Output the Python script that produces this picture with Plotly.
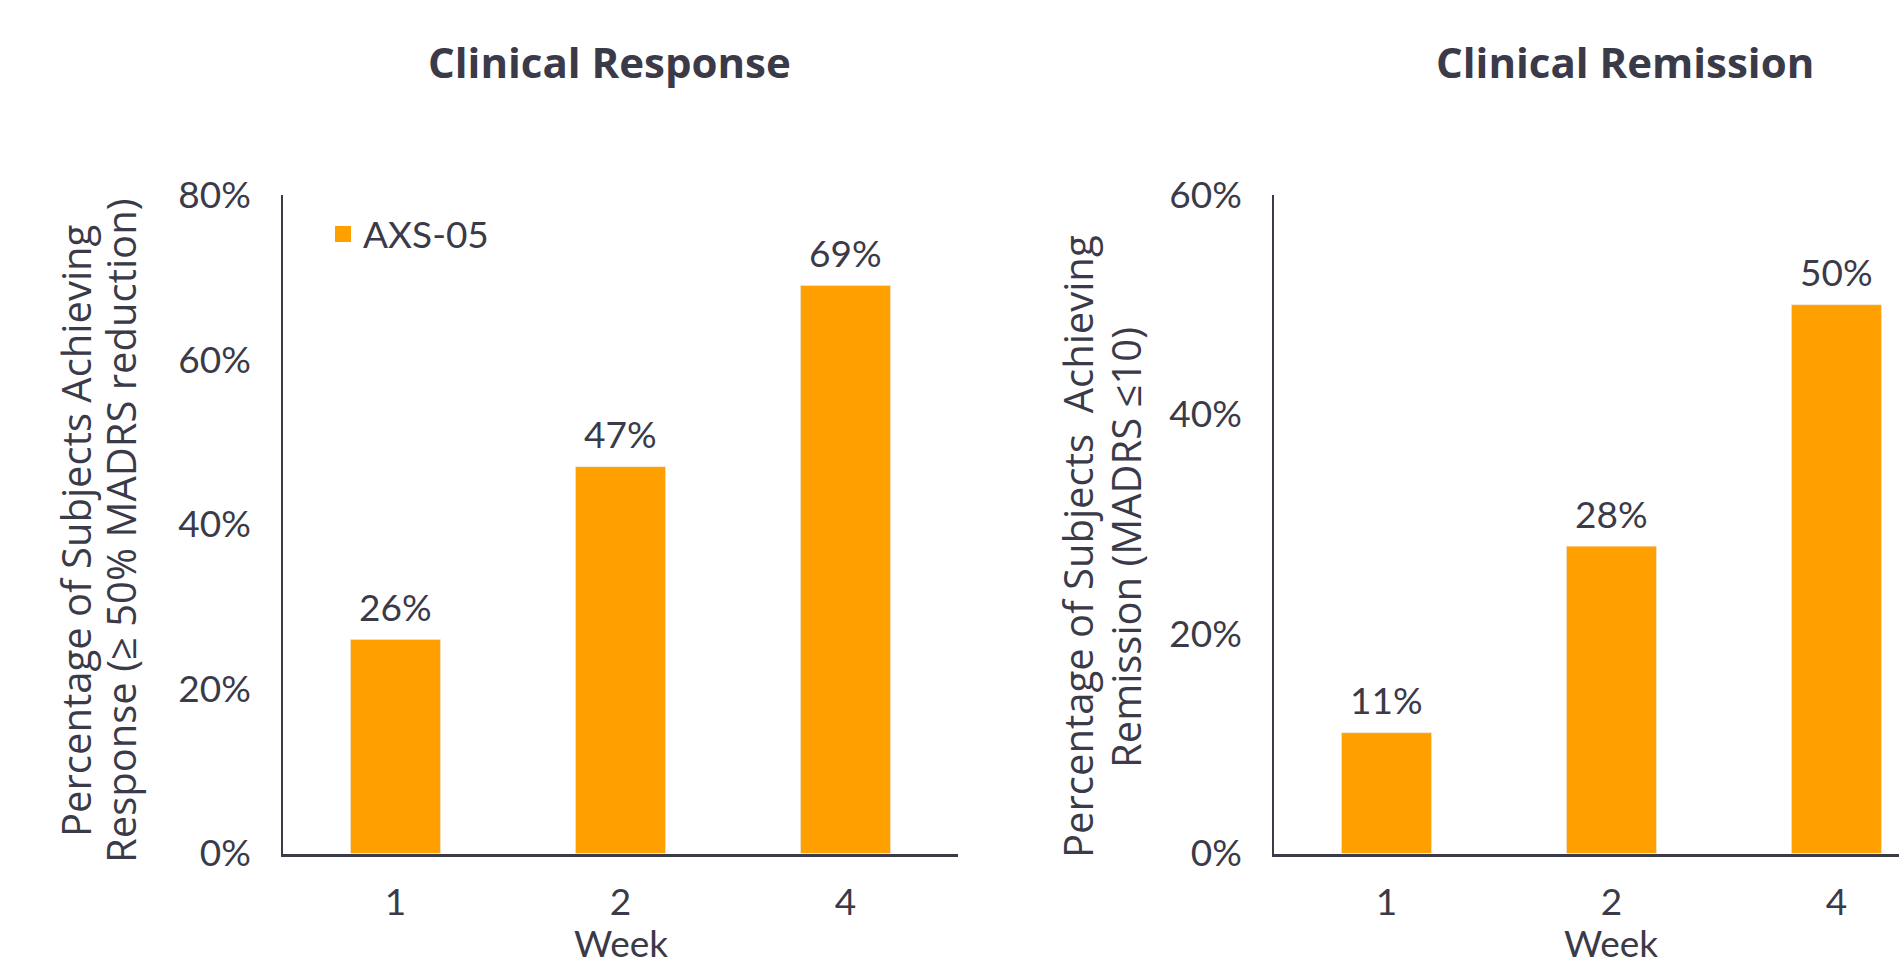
import plotly.graph_objects as go

weeks = ["1", "2", "4"]
response_pct = [26, 47, 69]
remission_pct = [11, 28, 50]
response_ticks = [0, 20, 40, 60, 80]
remission_ticks = [0, 20, 40, 60]
series_name = "AXS-05"

ORANGE = "#FF9F00"
TXT = "#3A3A48"
TICKFONT = dict(family="Lato, Open Sans, sans-serif", size=37, color=TXT)
TITLEFONT = dict(family="Open Sans, Lato, sans-serif", size=42, color=TXT)
AXTFONT = dict(family="Open Sans, DejaVu Sans, sans-serif", size=40, color=TXT)

W, H = 1899, 960
def px(x):
    return x / W
def py(y):
    return (H - y) / H

fig = go.Figure()
fig.add_trace(go.Bar(x=weeks, y=response_pct, marker_color=ORANGE, showlegend=False,
                     xaxis="x", yaxis="y"))
fig.add_trace(go.Bar(x=weeks, y=remission_pct, marker_color=ORANGE, showlegend=False,
                     xaxis="x2", yaxis="y2"))
fig.add_trace(go.Scatter(x=[None], y=[None], mode="markers", name=series_name,
                         marker=dict(symbol="square", size=20, color=ORANGE),
                         xaxis="x", yaxis="y", showlegend=True))

ydom = [py(853.5), py(195)]
common_x = dict(type="category", showline=True, linecolor=TXT, linewidth=2.5,
                showgrid=False, zeroline=False, ticks="", tickfont=TICKFONT,
                ticklabelstandoff=14, fixedrange=True, automargin=False)
common_y = dict(showline=True, linecolor=TXT, linewidth=1.5, showgrid=False,
                zeroline=False, ticks="", tickfont=TICKFONT,
                ticklabelstandoff=23, fixedrange=True, automargin=False,
                tickmode="array")

annotations = []
# panel titles
annotations.append(dict(text="<b>Clinical Response</b>", x=px(609), y=py(62), xref="paper",
                        yref="paper", showarrow=False, font=TITLEFONT, xanchor="center",
                        yanchor="middle"))
annotations.append(dict(text="<b>Clinical Remission</b>", x=px(1625), y=py(62), xref="paper",
                        yref="paper", showarrow=False, font=TITLEFONT, xanchor="center",
                        yanchor="middle"))
# y-axis titles
for t, x, y in [("Percentage of Subjects Achieving", 75, 531),
                ("Response (≥ 50% MADRS reduction)", 120, 531),
                ("Percentage of Subjects  Achieving", 1077, 547),
                ("Remission (MADRS ≤10)", 1125, 548)]:
    annotations.append(dict(text=t, x=px(x), y=py(y), xref="paper", yref="paper",
                            textangle=-90, showarrow=False, font=AXTFONT,
                            xanchor="center", yanchor="middle"))
# x-axis titles (centred on the middle category)
for xr in ["x", "x2"]:
    annotations.append(dict(text="Week", x=1, y=py(942), xref=xr, yref="paper",
                            showarrow=False, font=TICKFONT, xanchor="center",
                            yanchor="middle"))
# data labels
for xr, yr, vals in [("x", "y", response_pct), ("x2", "y2", remission_pct)]:
    for i, v in enumerate(vals):
        annotations.append(dict(text=f"{v}%", x=i, y=v, xref=xr, yref=yr,
                                showarrow=False, font=TICKFONT, xanchor="center",
                                yanchor="middle", yshift=33))

fig.update_layout(
    width=W, height=H, autosize=False,
    margin=dict(l=0, r=0, t=0, b=0, pad=0, autoexpand=False),
    paper_bgcolor="white", plot_bgcolor="white",
    bargap=0.6,
    xaxis=dict(domain=[px(283), px(958)], range=[-0.5, 2.5], anchor="y", **common_x),
    yaxis=dict(domain=ydom, range=[0, 80], tickvals=response_ticks,
               ticktext=[f"{t}%" for t in response_ticks], anchor="x", **common_y),
    xaxis2=dict(domain=[px(1274), 1.0], range=[-0.5, 2.278], anchor="y2", **common_x),
    yaxis2=dict(domain=ydom, range=[0, 60], tickvals=remission_ticks,
                ticktext=[f"{t}%" for t in remission_ticks], anchor="x2", **common_y),
    legend=dict(x=px(323), y=py(234.5), xanchor="left", yanchor="middle",
                font=TICKFONT, bgcolor="rgba(0,0,0,0)", itemclick=False),
    annotations=annotations,
    showlegend=True,
)

fig.write_html("out.html", config={"displayModeBar": False})
